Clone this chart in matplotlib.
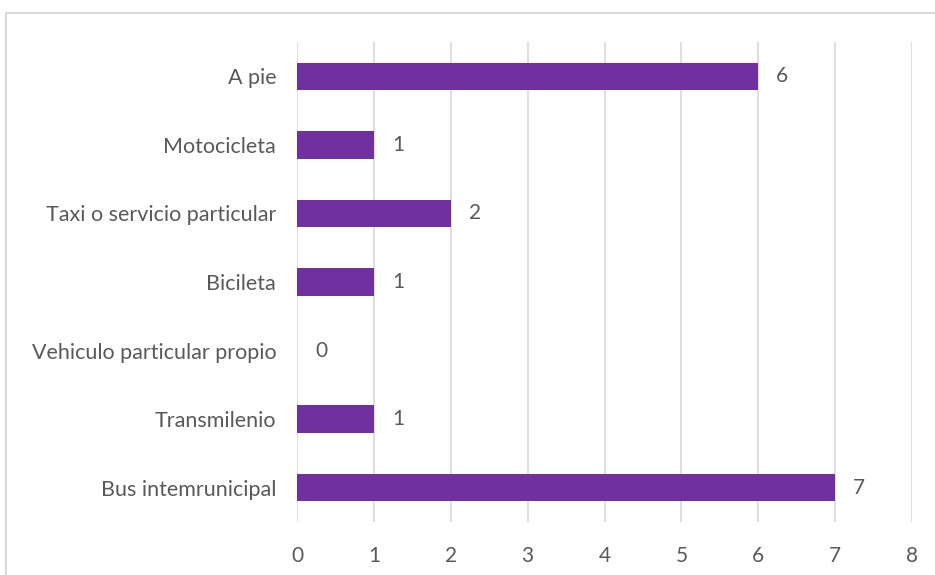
import matplotlib.pyplot as plt
from matplotlib.patches import Rectangle

# Data
modes = [
    "Bus intemrunicipal", "Transmilenio", "Vehiculo particular propio",
    "Bicileta", "Taxi o servicio particular", "Motocicleta", "A pie"
]
counts = [7, 1, 0, 1, 2, 1, 6]

plt.rcParams['font.family'] = ['Lato', 'DejaVu Sans']
grey = '#595959'

fig = plt.figure(figsize=(9.35, 5.75), dpi=100)
ax = fig.add_axes([297 / 935, 1 - 522 / 575, (912 - 297) / 935, (522 - 42) / 575])

bars = ax.barh(modes, counts, height=0.4, color='#7030a0', zorder=3)
for bar, v in zip(bars, counts):
    ax.annotate(str(v), (v, bar.get_y() + bar.get_height() / 2),
                xytext=(18, 0), textcoords='offset pixels',
                va='center', ha='left', fontsize=15, color=grey)

ax.set_xlim(0, 8)
ax.set_ylim(-0.5, len(modes) - 0.5)
ax.set_xticks(range(0, 9))
ax.grid(axis='x', color='#d9d9d9', linewidth=1.2, zorder=0)
ax.tick_params(length=0, labelsize=15.5, labelcolor=grey)
ax.tick_params(axis='x', labelsize=15)
ax.tick_params(axis='y', pad=15)
ax.tick_params(axis='x', pad=17)
for s in ax.spines.values():
    s.set_visible(False)

# chart area border
fig.patches.append(Rectangle((5.5, -20), 960, 582, transform=None,
                             fill=False, edgecolor='#d9d9d9', linewidth=1.5))

fig.savefig('out.png', dpi=100)
